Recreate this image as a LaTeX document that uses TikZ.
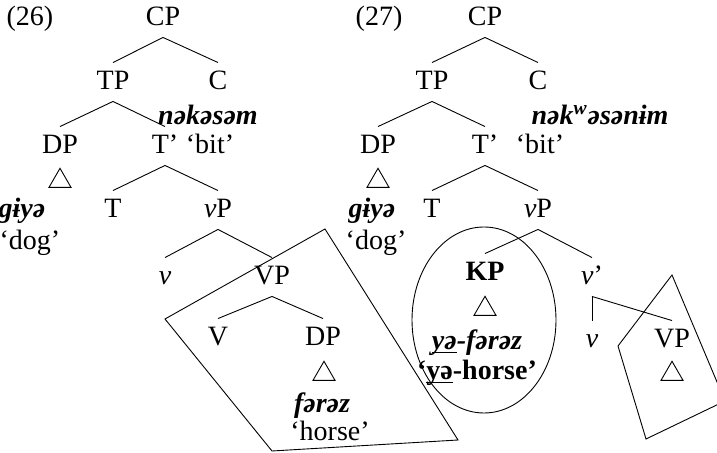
\documentclass[tikz,border=0pt]{standalone}
\usepackage{fontspec}
\setmainfont{Liberation Serif}
\usetikzlibrary{shapes.geometric}
\newcommand\tsize{\fontsize{14}{16}\selectfont}
\newcommand\uyl[1]{\underline{\smash{#1}}}

\begin{document}
\begin{tikzpicture}[x=0.5pt,y=-0.5pt,line width=0.45pt,
  cat/.style={inner sep=0pt, minimum height=19pt, text height=9.5pt, text depth=2pt, font=\tsize},
  word/.style={cat, font=\tsize\bfseries\itshape},
  tri/.style={regular polygon, regular polygon sides=3, draw, minimum size=12.7pt, inner sep=0pt}]
  \useasboundingbox (0,0) rectangle (717,453);
  \clip (0,0) rectangle (717,453);
  % (26)
  \node[cat] (numa) at (30,18) {(26)};
  \node[cat] (cpa) at (163,18) {CP};
  \node[cat] (tpa) at (113,82) {TP};
  \node[cat] (ca) at (218,82) {C};
  \node[word] (verba) at (208,117) {nəkəsəm};
  \node[cat] (dpa) at (60,146) {DP};
  \node[cat] (tbara) at (165,146) {T’};
  \node[cat] (bita) at (210,146) {‘bit’};
  \node[tri] (tria) at (60,181) {};
  \node[word] (doga) at (22,210) {gɨyə};
  \node[cat] (ta) at (113,210) {T};
  \node[cat] (vpa) at (218,210) {\textit{v}P};
  \node[cat] (dogglossa) at (30,242) {‘dog’};
  \node[cat] (va) at (165,277) {\textit{v}};
  \node[cat] (bigvpa) at (272,277) {VP};
  \node[cat] (bigva) at (218,338) {V};
  \node[cat] (objdpa) at (323,338) {DP};
  \node[tri] (trib) at (324,374) {};
  \node[word] (horsea) at (322,405) {fərəz};
  \node[cat] (horseglossa) at (330,433) {‘horse’};
  \foreach \a/\b in {cpa/tpa,cpa/ca,tpa/dpa,tpa/tbara,tbara/ta,tbara/vpa,
                     vpa/va,vpa/bigvpa,bigvpa/bigva,bigvpa/objdpa}
    \draw (\a.south) -- (\b.north);
  % box round the VP
  \draw (325,229) -- (165,319) -- (272,451) -- (458,440) -- cycle;
  % (27)
  \node[cat] (numb) at (379,18) {(27)};
  \node[cat] (cpb) at (485,18) {CP};
  \node[cat] (tpb) at (432,82) {TP};
  \node[cat] (cb) at (538,82) {C};
  \node[word] (verbb) at (600,117) {nək\textsuperscript{w}əsənɨm};
  \node[cat] (dpb) at (378,146) {DP};
  \node[cat] (tbarb) at (485,146) {T’};
  \node[cat] (bitb) at (540,146) {‘bit’};
  \node[tri] (tric) at (378,181) {};
  \node[word] (dogb) at (372,210) {gɨyə};
  \node[cat] (tb) at (432,210) {T};
  \node[cat] (vpb) at (538,210) {\textit{v}P};
  \node[cat] (dogglossb) at (376,242) {‘dog’};
  \node[cat, font=\tsize\bfseries] (kp) at (485,273) {KP};
  \node[tri] (trid) at (485,309) {};
  \node[word] (horseb) at (477,342) {\uyl{yə}-fərəz};
  \node[cat, font=\tsize\bfseries] (horseglossb) at (477,372) {‘\uyl{yə}-horse’};
  \node[cat] (vbarb) at (592,277) {\textit{v}’};
  \node[cat] (vb) at (592,340) {\textit{v}};
  \node[cat] (bigvpb) at (672,340) {VP};
  \node[tri] (trie) at (672,374) {};
  \foreach \a/\b in {cpb/tpb,cpb/cb,tpb/dpb,tpb/tbarb,tbarb/tb,tbarb/vpb,
                     vpb/kp,vpb/vbarb,vbarb/vb,vbarb/bigvpb}
    \draw (\a.south) -- (\b.north);
  % circled KP, boxed VP
  \draw (484,320) ellipse [x radius=72, y radius=93];
  \draw (672,275) -- (618,346) -- (646,439) -- (725,401) -- cycle;
\end{tikzpicture}
\end{document}
